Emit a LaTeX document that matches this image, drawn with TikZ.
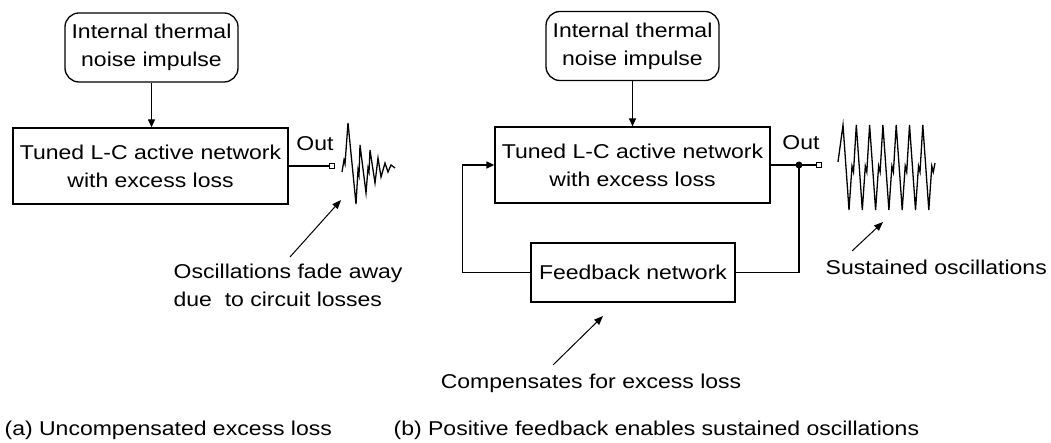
\documentclass[tikz,border=0pt]{standalone}
\usepackage{fontspec}
\setmainfont{Liberation Sans}[FakeStretch=1.15]
\usetikzlibrary{arrows.meta}

\begin{document}
\begin{tikzpicture}[x=1pt,y=-1pt,
  font=\fontsize{20}{28}\selectfont,
  line width=1.3pt,
  block/.style={draw,inner sep=0pt,align=center,minimum width=275pt,minimum height=76pt},
  srcbox/.style={draw,rounded corners=14pt,inner sep=0pt,align=center,minimum width=173pt,minimum height=69pt},
  fbbox/.style={draw,inner sep=0pt,minimum width=204pt,minimum height=59pt},
  txt/.style={inner sep=0pt},
  sig/.style={-{Triangle[length=8pt,width=7pt]}},
  note/.style={-{Triangle[length=9pt,width=7pt]},line width=1pt},
  term/.style={draw,fill=white,inner sep=0pt,minimum size=4.5pt,line width=1pt},
  wave/.style={line width=1.3pt,line join=miter}
]
\useasboundingbox (0,0) rectangle (1051,443);

% ---------- (a) network without feedback ----------
\node[srcbox] (srcA) at (151.5,47.5) {Internal thermal\\noise impulse};
\node[block] (netA) at (150.5,166) {Tuned L-C active network\\with excess loss};
\draw[sig] (srcA.south) -- (srcA.south |- netA.north);
\node[term] (outA) at (332,166) {};
\draw (netA.east) -- (outA.west);
\node[txt] (outlabA) at (315,144) {Out};

% decaying oscillation
\draw[wave] (342,172) -- (344,160) -- (345,164) -- (348,123) -- (356,204)
  -- (358,170) -- (359,175) -- (360,145) -- (366,193)
  -- (368,168) -- (369,172) -- (370,150) -- (375,183) -- (378,158)
  -- (381,177) -- (385,163) -- (388,172) -- (391,165) -- (395,168);

\node[txt,anchor=north west,align=left] (noteA) at (173,263)
  {Oscillations fade away\\due\ \ to circuit losses};
\coordinate (tailA) at (290,257);
\coordinate (tipA) at (341,200);
\draw[note] (tailA) -- (tipA);

% ---------- (b) network with positive feedback ----------
\node[srcbox] (srcB) at (632.5,46) {Internal thermal\\noise impulse};
\node[block] (netB) at (632.5,165) {Tuned L-C active network\\with excess loss};
\draw[sig] (srcB.south) -- (netB.north);
\node[fbbox] (fb) at (633,272.5) {Feedback network};
\coordinate (junc) at (799,165);
\node[term] (outB) at (819,165) {};
\draw (netB.east) -- (outB.west);
\fill (junc) circle (3.5pt);
\node[txt] (outlabB) at (801,143) {Out};
\draw (junc) |- (fb.east);
\draw[sig] (fb.west) -- ++(-68,0) |- (netB.west);

% sustained oscillation, with a small kink on every rising edge
\draw[wave] (838,162)
  \foreach \i in {0,...,6} {
    -- ({843+13.3*\i},125) -- ({849+13.3*\i},210)
    -- ({852+13.3*\i},166) -- ({853.5+13.3*\i},172) }
  -- (935,163);

\node[txt,anchor=base west] (sust) at (825,275) {Sustained oscillations};
\coordinate (tailB) at (852,251);
\coordinate (tipB) at (883,222);
\draw[note] (tailB) -- (tipB);

\node[txt,anchor=base] (comp) at (591,388) {Compensates for excess loss};
\coordinate (tailC) at (553,365);
\coordinate (tipC) at (603,316);
\draw[note] (tailC) -- (tipC);

% ---------- captions ----------
\node[txt,anchor=base west] (capA) at (4,435) {(a) Uncompensated excess loss};
\node[txt,anchor=base west] (capB) at (393,435) {(b) Positive feedback enables sustained oscillations};
\end{tikzpicture}
\end{document}
